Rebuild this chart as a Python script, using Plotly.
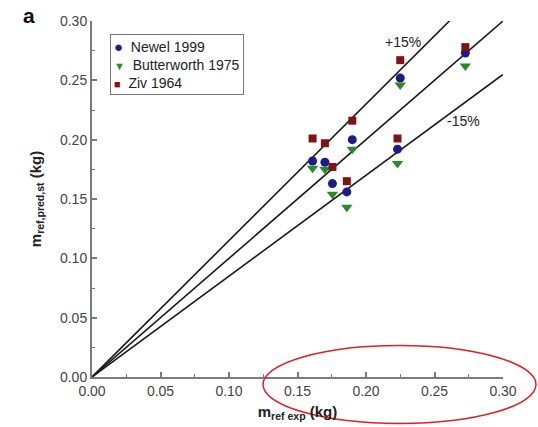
import plotly.graph_objects as go

# Experimental refrigerant mass (kg)
m_exp = [0.161, 0.170, 0.1755, 0.186, 0.190, 0.223, 0.225, 0.2725]
# Predicted refrigerant mass (kg) by correlation
newel = [0.182, 0.181, 0.163, 0.156, 0.200, 0.192, 0.252, 0.273]
butterworth = [0.176, 0.175, 0.154, 0.143, 0.192, 0.180, 0.246, 0.262]
ziv = [0.201, 0.197, 0.177, 0.165, 0.216, 0.201, 0.267, 0.278]

series_names = ["Newel 1999", "Butterworth 1975", "Ziv 1964"]
series_colors = ["#1c1c86", "#2a8a2a", "#7f1416"]
series_symbols = ["circle", "triangle-down", "square"]
legend_glyphs = ["●", "▼", "■"]
legend_glyph_sizes = [15, 11, 11]

# Reference lines: perfect agreement and +/-15 %
line_factors = [1.15, 1.00, 0.85]
line_x = [0.0, 0.30]

FONT = "Liberation Sans, Arial, sans-serif"
fig = go.Figure()

for k in line_factors:
    fig.add_trace(go.Scatter(
        x=line_x, y=[v * k for v in line_x], mode="lines",
        line=dict(color="#1a1a1a", width=1.6), showlegend=False, hoverinfo="skip"))

sizes = [9, 10, 8]
for name, vals, col, sym, sz in zip(series_names, [newel, butterworth, ziv],
                                    series_colors, series_symbols, sizes):
    fig.add_trace(go.Scatter(x=m_exp, y=vals, mode="markers", name=name,
                             marker=dict(symbol=sym, size=sz, color=col),
                             showlegend=False))

axis_common = dict(
    range=[0, 0.30], dtick=0.05, tickformat=".2f", showgrid=False, zeroline=False,
    showline=True, linecolor="#7a7a7a", linewidth=2, ticks="inside", ticklen=5,
    tickcolor="#7a7a7a", tickwidth=1.5, automargin=False,
    minor=dict(dtick=0.025, ticks="inside", ticklen=3, tickcolor="#7a7a7a", tickwidth=1.2),
    tickfont=dict(family=FONT, size=14, color="#444444"),
)

legend_text = "<br>".join(
    f"<span style='color:{c};font-size:{s}px'>{g}</span>&nbsp;&nbsp;{n}"
    for g, c, s, n in zip(legend_glyphs, series_colors, legend_glyph_sizes, series_names))

fig.update_layout(
    width=538, height=427,
    margin=dict(l=92, r=35, t=21, b=50),
    paper_bgcolor="white", plot_bgcolor="white",
    font=dict(family=FONT, size=14, color="#222222"),
    xaxis=dict(**axis_common,
               title=dict(text="<b>m<sub>ref exp</sub> (kg)</b>", standoff=9,
                          font=dict(family=FONT, size=15, color="#222222"))),
    yaxis=dict(**axis_common,
               title=dict(text="<b>m<sub>ref,pred,st</sub> (kg)</b>", standoff=15,
                          font=dict(family=FONT, size=15, color="#222222"))),
    showlegend=False,
    annotations=[
        dict(x=0.227, y=0.2827, xref="x", yref="y", text="+15%", showarrow=False,
             font=dict(family=FONT, size=14, color="#222222")),
        dict(x=0.2708, y=0.2161, xref="x", yref="y", text="-15%", showarrow=False,
             font=dict(family=FONT, size=14, color="#222222")),
        dict(x=(29 - 92) / 411, y=(376.5 - 15) / 356, xref="paper", yref="paper",
             xanchor="center", yanchor="middle", text="<b>a</b>", showarrow=False,
             font=dict(family=FONT, size=21, color="#111111")),
        dict(x=(110 - 92) / 411, y=(376.5 - 33) / 356, xref="paper", yref="paper",
             xanchor="left", yanchor="top", align="left", text=legend_text,
             showarrow=False, bordercolor="#777777", borderwidth=1, borderpad=3,
             bgcolor="white", font=dict(family=FONT, size=14, color="#222222")),
    ],
    shapes=[
        dict(type="circle", xref="paper", yref="paper",
             x0=(263 - 92) / 411, x1=(536 - 92) / 411,
             y0=(376.5 - 423) / 356, y1=(376.5 - 345) / 356,
             line=dict(color="#e02020", width=1.5)),
    ],
)

fig.write_html("out.html", config={"displayModeBar": False},
               post_script="document.body.style.margin='0';")
